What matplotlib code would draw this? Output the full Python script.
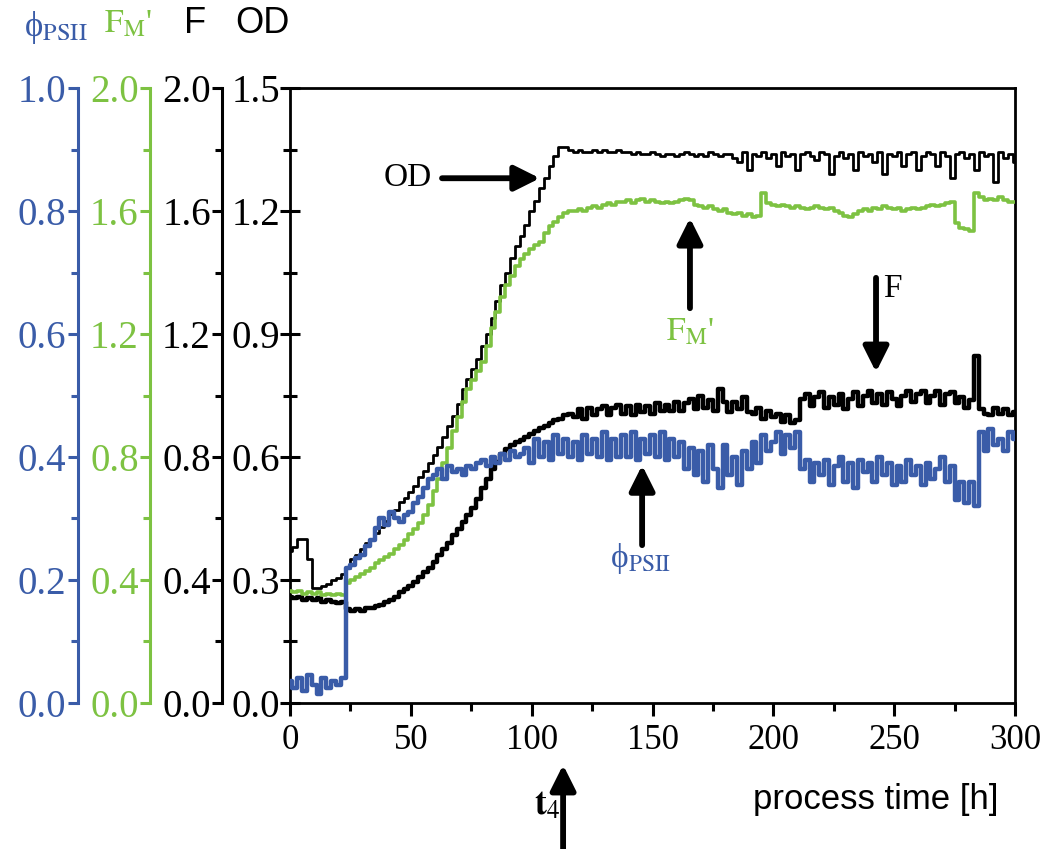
import numpy as np
import matplotlib.pyplot as plt
from matplotlib.ticker import MultipleLocator, FormatStrFormatter

plt.rcParams['font.family'] = ['Liberation Serif', 'DejaVu Serif']
plt.rcParams['mathtext.fontset'] = 'stix'

blue = '#3a5ca8'
green = '#7dc242'

# process time [h], sampled every 2 h
t = np.arange(0, 301, 2)

od = [0.37, 0.38, 0.40, 0.40, 0.35, 0.28, 0.28, 0.285, 0.29, 0.30,
      0.305, 0.315, 0.33, 0.35, 0.36, 0.375, 0.39, 0.40, 0.415, 0.43,
      0.445, 0.46, 0.47, 0.49, 0.50, 0.515, 0.53, 0.55, 0.565, 0.585,
      0.605, 0.625, 0.65, 0.675, 0.70, 0.73, 0.765, 0.79, 0.815, 0.84,
      0.87, 0.90, 0.94, 0.98, 1.02, 1.05, 1.085, 1.115, 1.14, 1.165,
      1.20, 1.225, 1.255, 1.28, 1.31, 1.335, 1.355, 1.355, 1.35, 1.345,
      1.35, 1.345, 1.345, 1.35, 1.345, 1.35, 1.345, 1.345, 1.35, 1.345,
      1.345, 1.34, 1.345, 1.34, 1.34, 1.345, 1.34, 1.335, 1.34, 1.34,
      1.335, 1.34, 1.345, 1.34, 1.335, 1.34, 1.335, 1.345, 1.34, 1.335,
      1.34, 1.34, 1.33, 1.32, 1.345, 1.30, 1.34, 1.335, 1.345, 1.33,
      1.34, 1.31, 1.345, 1.335, 1.34, 1.30, 1.34, 1.345, 1.335, 1.325,
      1.345, 1.34, 1.29, 1.335, 1.345, 1.33, 1.34, 1.30, 1.345, 1.335,
      1.34, 1.32, 1.345, 1.29, 1.34, 1.335, 1.345, 1.31, 1.34, 1.345,
      1.30, 1.335, 1.345, 1.34, 1.31, 1.345, 1.335, 1.28, 1.34, 1.345,
      1.33, 1.34, 1.30, 1.345, 1.335, 1.34, 1.27, 1.345, 1.33, 1.34,
      1.32]

fm = [0.365, 0.36, 0.365, 0.355, 0.36, 0.355, 0.36, 0.35, 0.355, 0.35,
      0.355, 0.35, 0.39, 0.40, 0.41, 0.42, 0.43, 0.44, 0.455, 0.465,
      0.475, 0.485, 0.50, 0.515, 0.53, 0.55, 0.565, 0.585, 0.61, 0.645,
      0.69, 0.73, 0.78, 0.83, 0.885, 0.93, 0.98, 1.02, 1.05, 1.08,
      1.11, 1.16, 1.22, 1.27, 1.32, 1.36, 1.39, 1.42, 1.445, 1.46,
      1.475, 1.49, 1.50, 1.53, 1.55, 1.565, 1.58, 1.595, 1.60, 1.60,
      1.605, 1.60, 1.61, 1.615, 1.61, 1.62, 1.625, 1.62, 1.63, 1.63,
      1.635, 1.625, 1.635, 1.64, 1.63, 1.635, 1.63, 1.625, 1.63, 1.625,
      1.63, 1.635, 1.64, 1.635, 1.62, 1.615, 1.61, 1.615, 1.605, 1.60,
      1.605, 1.595, 1.59, 1.595, 1.585, 1.59, 1.58, 1.585, 1.66, 1.625,
      1.62, 1.615, 1.62, 1.615, 1.61, 1.615, 1.61, 1.605, 1.61, 1.615,
      1.61, 1.605, 1.61, 1.60, 1.595, 1.585, 1.58, 1.59, 1.60, 1.605,
      1.60, 1.61, 1.605, 1.615, 1.61, 1.605, 1.61, 1.60, 1.605, 1.61,
      1.605, 1.61, 1.615, 1.62, 1.615, 1.62, 1.625, 1.63, 1.56, 1.545,
      1.54, 1.535, 1.66, 1.645, 1.635, 1.64, 1.635, 1.645, 1.635, 1.63,
      1.63]

f = [0.345, 0.34, 0.345, 0.335, 0.34, 0.335, 0.34, 0.33, 0.335, 0.33,
     0.325, 0.33, 0.305, 0.30, 0.305, 0.30, 0.31, 0.31, 0.315, 0.32,
     0.33, 0.335, 0.345, 0.36, 0.37, 0.38, 0.395, 0.41, 0.425, 0.44,
     0.46, 0.48, 0.50, 0.52, 0.545, 0.565, 0.59, 0.61, 0.635, 0.665,
     0.70, 0.73, 0.76, 0.785, 0.81, 0.825, 0.84, 0.85, 0.855, 0.865,
     0.875, 0.885, 0.895, 0.90, 0.91, 0.92, 0.925, 0.935, 0.94, 0.93,
     0.955, 0.925, 0.96, 0.935, 0.955, 0.965, 0.935, 0.96, 0.97, 0.94,
     0.965, 0.935, 0.97, 0.945, 0.965, 0.94, 0.975, 0.95, 0.97, 0.95,
     0.98, 0.95, 0.975, 0.99, 0.955, 1.0, 0.96, 0.985, 0.95, 1.02,
     0.98, 0.945, 0.98, 0.955, 0.995, 0.945, 0.94, 0.96, 0.925, 0.95,
     0.93, 0.94, 0.915, 0.935, 0.91, 0.92, 0.99, 1.005, 0.965, 0.995,
     1.01, 0.96, 0.995, 0.97, 1.005, 0.955, 0.99, 1.01, 0.965, 1.0,
     1.015, 0.975, 1.005, 0.97, 1.01, 0.99, 0.965, 1.0, 1.015, 0.98,
     1.005, 1.015, 0.975, 1.0, 1.015, 0.97, 1.005, 1.01, 0.975, 0.995,
     0.96, 0.985, 1.13, 0.955, 0.94, 0.935, 0.96, 0.94, 0.955, 0.935,
     0.945]

phi = [0.035, 0.025, 0.04, 0.02, 0.045, 0.03, 0.015, 0.04, 0.025, 0.035,
       0.03, 0.04, 0.22, 0.225, 0.235, 0.24, 0.255, 0.265, 0.285, 0.30,
       0.29, 0.31, 0.30, 0.295, 0.305, 0.31, 0.325, 0.335, 0.35, 0.365,
       0.37, 0.38, 0.365, 0.385, 0.375, 0.38, 0.37, 0.385, 0.38, 0.39,
       0.395, 0.385, 0.40, 0.39, 0.405, 0.395, 0.41, 0.40, 0.405, 0.415,
       0.39, 0.43, 0.40, 0.425, 0.395, 0.435, 0.405, 0.43, 0.40, 0.425,
       0.395, 0.435, 0.405, 0.43, 0.40, 0.44, 0.395, 0.43, 0.40, 0.435,
       0.40, 0.44, 0.395, 0.43, 0.405, 0.435, 0.40, 0.44, 0.395, 0.43,
       0.40, 0.425, 0.38, 0.415, 0.37, 0.41, 0.36, 0.42, 0.38, 0.35,
       0.42, 0.37, 0.40, 0.355, 0.41, 0.38, 0.425, 0.39, 0.435, 0.41,
       0.425, 0.44, 0.405, 0.435, 0.415, 0.44, 0.38, 0.395, 0.36, 0.39,
       0.37, 0.395, 0.355, 0.385, 0.40, 0.36, 0.39, 0.35, 0.395, 0.375,
       0.39, 0.36, 0.40, 0.37, 0.39, 0.355, 0.385, 0.36, 0.395, 0.37,
       0.385, 0.355, 0.39, 0.365, 0.38, 0.40, 0.36, 0.385, 0.33, 0.36,
       0.325, 0.36, 0.32, 0.44, 0.41, 0.445, 0.42, 0.43, 0.41, 0.44,
       0.43]

fig = plt.figure(figsize=(10.52, 8.49), dpi=100)
ax = fig.add_axes([0.2757, 0.172, 0.6891, 0.7243])

ax_f = ax.twinx()
ax_fm = ax.twinx()
ax_phi = ax.twinx()

ax.plot(t, od, color='black', lw=2.0, drawstyle='steps-mid')
ax_f.plot(t, f, color='black', lw=3.2, drawstyle='steps-mid')
ax_fm.plot(t, fm, color=green, lw=2.6, drawstyle='steps-mid')
ax_phi.plot(t, phi, color=blue, lw=3.2, drawstyle='steps-mid')

ax.set_xlim(0, 300)
ax.set_ylim(0, 1.5)
ax_f.set_ylim(0, 2.0)
ax_fm.set_ylim(0, 2.0)
ax_phi.set_ylim(0, 1.0)

# main axis
for s in ax.spines.values():
    s.set_linewidth(2.0)
ax.xaxis.set_major_locator(MultipleLocator(50))
ax.xaxis.set_minor_locator(MultipleLocator(25))
ax.yaxis.set_major_locator(MultipleLocator(0.3))
ax.yaxis.set_minor_locator(MultipleLocator(0.15))
ax.yaxis.set_major_formatter(FormatStrFormatter('%.1f'))
ax.tick_params(axis='x', which='major', direction='out', length=9, width=2.2,
               labelsize=25, pad=6)
ax.tick_params(axis='x', which='minor', direction='out', length=6, width=2.2)
ax.tick_params(axis='y', which='major', direction='inout', length=14, width=2.2,
               labelsize=28, pad=0)
ax.tick_params(axis='y', which='minor', direction='inout', length=10, width=2.2)

# extra left axes
extra = [(ax_f, 49, 'black', 0.4), (ax_fm, 101, green, 0.4), (ax_phi, 153, blue, 0.2)]
for a, off, col, step in extra:
    for name in ['top', 'bottom', 'right']:
        a.spines[name].set_visible(False)
    a.spines['left'].set_visible(True)
    a.spines['left'].set_position(('outward', off))
    a.spines['left'].set_color(col)
    a.spines['left'].set_linewidth(2.2)
    a.yaxis.set_ticks_position('left')
    a.yaxis.set_label_position('left')
    a.yaxis.set_major_locator(MultipleLocator(step))
    a.yaxis.set_minor_locator(MultipleLocator(step / 2))
    a.yaxis.set_major_formatter(FormatStrFormatter('%.1f'))
    a.tick_params(axis='y', which='major', direction='out', length=7, width=2.2,
                  labelsize=28, pad=1, colors=col)
    a.tick_params(axis='y', which='minor', direction='out', length=5, width=2.2,
                  colors=col)

# axis headers
fig.text(0.053, 0.968, r'ϕ$_{\mathrm{PSII}}$', color=blue, fontsize=25,
         ha='center', va='center')
fig.text(0.122, 0.972, r"$\mathrm{F_M}$'", color=green, fontsize=24,
         ha='center', va='center')
fig.text(0.185, 0.972, 'F', color='black', fontsize=26, ha='center', va='center',
         family='Liberation Sans')
fig.text(0.249, 0.972, 'OD', color='black', fontsize=26, ha='center', va='center',
         family='Liberation Sans')

fig.text(0.832, 0.058, 'process time [h]', fontsize=25, ha='center', va='center',
         family='Liberation Sans')

arrow = dict(arrowstyle='-|>', lw=4.2, color='black', mutation_scale=38,
             shrinkA=0, shrinkB=0)

ax.annotate('', xy=(103.4, 1.28), xytext=(62.9, 1.28), arrowprops=arrow)
ax.text(58.5, 1.28, 'OD', fontsize=24, ha='right', va='center')

ax.annotate('', xy=(165.5, 1.183), xytext=(165.5, 0.963), arrowprops=arrow)
ax.text(165.5, 0.905, r"$\mathrm{F_M}$'", color=green, fontsize=24,
        ha='center', va='center')

ax.annotate('', xy=(242.5, 0.807), xytext=(242.5, 1.037), arrowprops=arrow)
ax.text(245.5, 1.01, 'F', fontsize=24, ha='left', va='center')

ax.annotate('', xy=(145.7, 0.58), xytext=(145.7, 0.385), arrowprops=arrow)
ax.text(145.0, 0.352, r'ϕ$_{\mathrm{PSII}}$', color=blue, fontsize=24,
        ha='center', va='center')

ax.annotate('', xy=(113, -0.151), xytext=(113, -0.36), arrowprops=arrow,
            annotation_clip=False)
ax.text(106.5, -0.25, r'$\mathbf{t}_{4}$', fontsize=26, ha='center', va='center',
        clip_on=False)

fig.savefig('out.png', dpi=100)
